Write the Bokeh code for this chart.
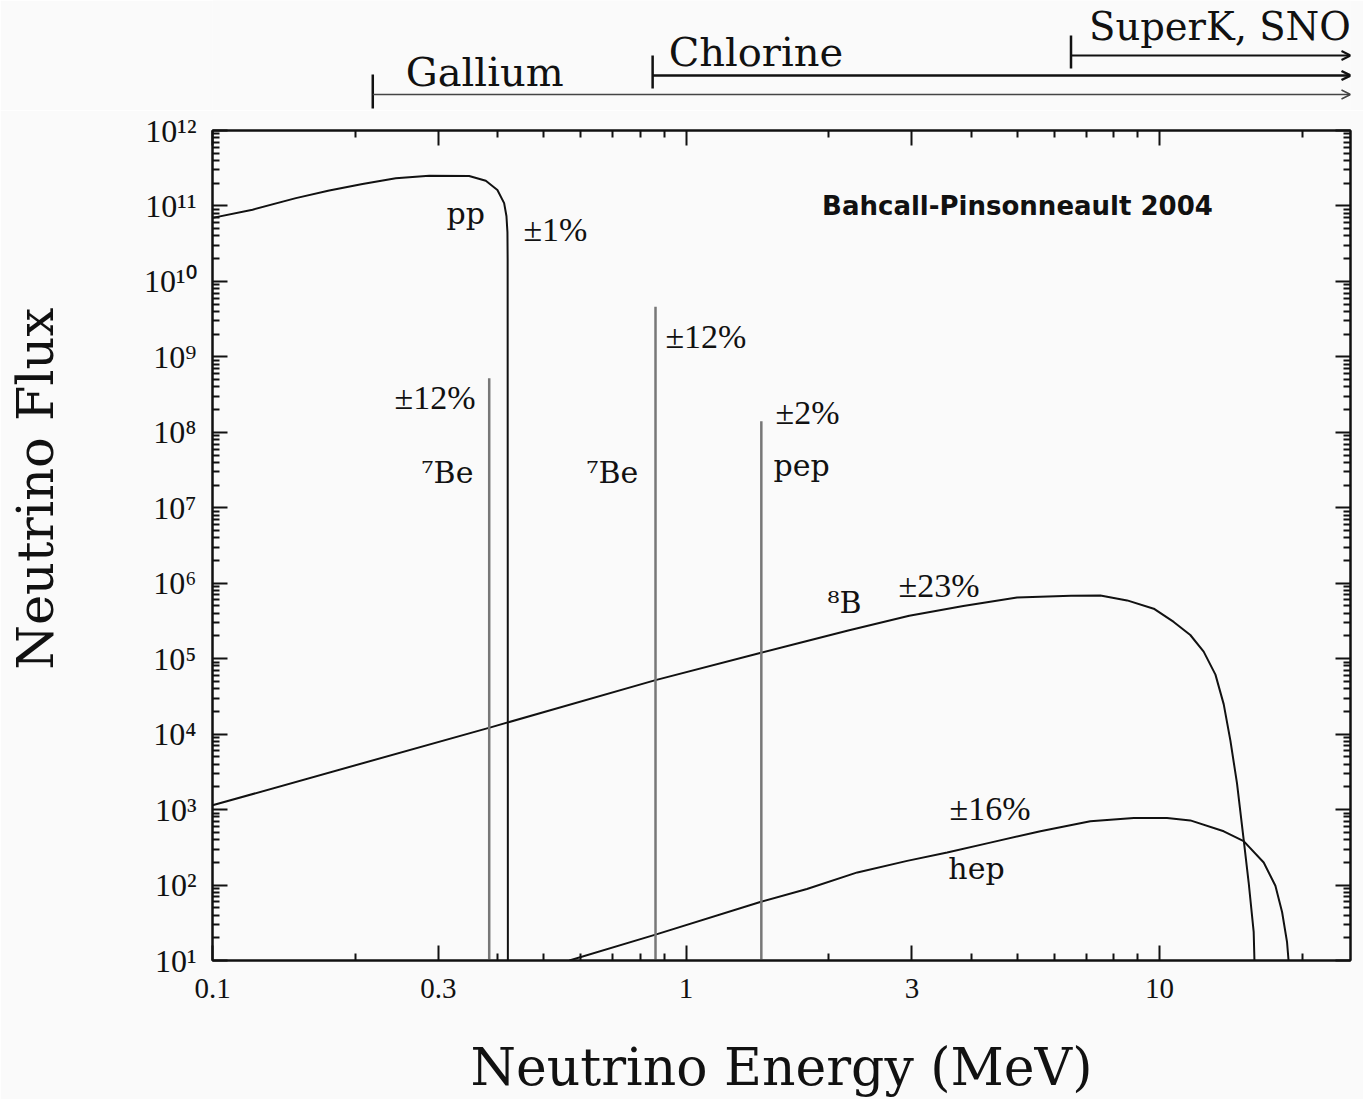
import numpy as np
from bokeh.plotting import figure
from bokeh.layouts import column
from bokeh.models import (FixedTicker, LogAxis, Range1d, Arrow, OpenHead,
                          CustomJSTickFormatter)
from bokeh.core.properties import value
from bokeh.embed import file_html
from bokeh.resources import INLINE

# ---------------- data ----------------
pp_E = [0.1, 0.1215, 0.150, 0.1764, 0.2074, 0.2438, 0.2869, 0.3483, 0.3777,
        0.3996, 0.4129, 0.4176, 0.4196, 0.4200, 0.4205]
pp_F = [6.95e10, 8.93e10, 1.27e11, 1.60e11, 1.96e11, 2.33e11, 2.52e11, 2.50e11,
        2.16e11, 1.63e11, 1.09e11, 7.3e10, 4.46e10, 1.98e10, 10]

b8_E = [0.1, 0.385, 0.862, 1.44, 1.75, 2.2, 2.96, 3.85, 5.0, 6.5, 7.50, 8.54,
        9.72, 10.71, 11.61, 12.39, 13.12, 13.66, 14.11, 14.57, 15.05, 15.42,
        15.80, 15.86]
b8_F = [1.14e3, 1.22e4, 5.2e4, 1.2e5, 1.64e5, 2.36e5, 3.7e5, 5.0e5, 6.46e5,
        6.8e5, 6.88e5, 5.92e5, 4.60e5, 3.07e5, 2.06e5, 1.24e5, 6.15e4, 2.48e4,
        8.2e3, 2.22e3, 401, 108, 24, 10]

hep_E = [0.567, 0.862, 1.44, 1.80, 2.30, 2.93, 3.56, 4.39, 5.60, 7.14, 8.82,
         10.37, 11.61, 13.66, 15.05, 16.59, 17.56, 18.14, 18.58, 18.72]
hep_F = [10, 22, 60, 88.7, 147, 209, 270, 365, 517, 700, 771,
         771, 719, 516, 382, 199, 98, 43.9, 17.7, 10]

line_E = [0.384, 0.862, 1.442]          # 7Be, 7Be, pep
line_F = [5.2e8, 4.6e9, 1.4e8]

det_names = ["Gallium", "Chlorine", "SuperK, SNO"]
det_thresh = [0.218, 0.85, 6.5]

x_ticks = [0.1, 0.3, 1, 3, 10]
x_tick_labels = ["0.1", "0.3", "1", "3", "10"]
x_minor = [0.2, 0.4, 0.5, 0.6, 0.7, 0.8, 0.9, 2, 4, 5, 6, 7, 8, 9, 20]

y_exps = list(range(1, 13))
y_tick_labels = ["10¹", "10²", "10³", "10⁴", "10⁵", "10⁶", "10⁷", "10⁸", "10⁹",
                 "10¹⁰", "10¹¹", "10¹²"]

XMIN, XMAX = 0.1, 25.3
YMIN, YMAX = 10, 1e12

# ---------------- layout ----------------
FRAME_L = 212
R_BORDER = 13
FRAME_W = 1138
TOP_H = 110
MAIN_TOP = 20
FRAME_H = 839
BOTTOM = 130
W = FRAME_L + FRAME_W + R_BORDER
BG = "#fafafa"
INK = "#111111"
SERIF = "DejaVu Serif"
TSERIF = "Liberation Serif"
PXY = FRAME_H / (np.log10(YMAX) - np.log10(YMIN))   # px per decade (y)

p = figure(width=W, height=MAIN_TOP + FRAME_H + BOTTOM,
           x_axis_type="log", y_axis_type="log",
           x_range=Range1d(XMIN, XMAX), y_range=Range1d(YMIN, YMAX),
           output_backend="svg", toolbar_location=None, title=None,
           min_border_left=FRAME_L, min_border_right=R_BORDER,
           min_border_top=MAIN_TOP, min_border_bottom=BOTTOM)
p.background_fill_color = BG
p.border_fill_color = BG
p.outline_line_color = INK
p.outline_line_width = 2
p.xgrid.grid_line_color = None
p.ygrid.grid_line_color = None

p.add_layout(LogAxis(), "above")
p.add_layout(LogAxis(), "right")

xfmt = CustomJSTickFormatter(args=dict(xt=x_ticks, xl=x_tick_labels), code="""
const i = xt.findIndex(v => Math.abs(Math.log10(v) - Math.log10(tick)) < 1e-6);
return i >= 0 ? xl[i] : "";
""")
yfmt = CustomJSTickFormatter(args=dict(ye=y_exps, yl=y_tick_labels), code="""
const e = Math.round(Math.log10(tick));
const i = ye.indexOf(e);
return i >= 0 ? yl[i] : "";
""")
blank = CustomJSTickFormatter(code="return '';")

for ax in p.xaxis:
    ax.ticker = FixedTicker(ticks=x_ticks, minor_ticks=x_minor)
for ax in p.yaxis:
    ax.ticker = FixedTicker(ticks=[10.0 ** e for e in y_exps],
                            minor_ticks=[m * 10.0 ** e for e in y_exps[:-1] for m in range(2, 10)])

for ax in list(p.xaxis) + list(p.yaxis):
    ax.major_tick_in = 15
    ax.major_tick_out = 0
    ax.minor_tick_in = 7
    ax.minor_tick_out = 0
    ax.axis_line_width = 2
    ax.axis_line_color = INK
    ax.major_tick_line_width = 2
    ax.major_tick_line_color = INK
    ax.minor_tick_line_width = 2
    ax.minor_tick_line_color = INK
    ax.major_label_text_font = TSERIF
    ax.major_label_text_color = INK
    ax.axis_label_text_font = SERIF
    ax.axis_label_text_font_style = "normal"
    ax.axis_label_text_color = INK

p.above[0].formatter = blank
p.above[0].major_label_standoff = 0
p.right[0].formatter = blank
p.right[0].major_label_standoff = 0

bx = p.below[0]
bx.formatter = xfmt
bx.major_label_text_font_size = "29px"
bx.major_label_standoff = 18
bx.axis_label = "Neutrino Energy (MeV)"
bx.axis_label_text_font_size = "52px"
bx.axis_label_standoff = 36

ly = p.left[0]
ly.formatter = yfmt
ly.major_label_text_font_size = "32px"
ly.major_label_standoff = 16
# leading no-break spaces lift the title above the frame centre, as in the reference
ly.axis_label = "\u00a0" * 7 + "Neutrino Flux"
ly.axis_label_text_font_size = "51px"
ly.axis_label_standoff = 76

# curves
p.line(pp_E, pp_F, line_color=INK, line_width=2)
p.line(b8_E, b8_F, line_color=INK, line_width=2)
p.line(hep_E, hep_F, line_color=INK, line_width=2)
p.segment(x0=line_E, y0=[YMIN] * len(line_E), x1=line_E, y1=line_F,
          line_color="#777777", line_width=2.5)

def lab(x, y, t, font=SERIF, size=30, align="left", style="normal", lift=7):
    # lift: pixels the baseline is raised to sit where the reference has it
    p.text(x=[x], y=[y * 10 ** (lift / PXY)], text=[t], text_font=value(font),
           text_font_size=f"{size}px", text_align=align, text_baseline="alphabetic",
           text_color=INK, text_font_style=style)

lab(0.312, 6.4e10, "pp")
lab(0.4535, 3.6e10, "±1%", font=TSERIF, size=34, lift=10)
lab(5.01, 8.2e10, "Bahcall-Pinsonneault 2004", font="DejaVu Sans",
    size=26, align="center", style="bold")
lab(0.3593, 2.13e8, "±12%", font=TSERIF, size=34, align="right", lift=10)
lab(0.3556, 2.29e7, "⁷Be", align="right", lift=8)
lab(0.793, 2.29e7, "⁷Be", align="right", lift=8)
lab(0.9047, 1.39e9, "±12%", font=TSERIF, size=34, lift=10)
lab(1.545, 1.36e8, "±2%", font=TSERIF, size=34, lift=10)
lab(1.53, 2.9e7, "pep")
lab(1.989, 4.8e5, "⁸B", lift=5)
lab(2.81, 6.9e5, "±23%", font=TSERIF, size=34, lift=10)
lab(3.6, 845, "±16%", font=TSERIF, size=34, lift=7)
lab(3.58, 156, "hep", lift=2)

# ---------------- detector thresholds (strip above the frame) ----------------
t = figure(width=W, height=TOP_H, x_axis_type="log", x_range=p.x_range,
           y_range=Range1d(0, TOP_H), output_backend="svg", toolbar_location=None,
           title=None, min_border_left=0, min_border_right=0, min_border_top=0,
           min_border_bottom=0, x_axis_location=None, y_axis_location=None)
t.background_fill_color = BG
t.border_fill_color = BG
t.outline_line_color = None
t.xgrid.grid_line_color = None
t.ygrid.grid_line_color = None

line_y = [16, 35, 55]
tick_lo = [2, 22, 42]
tick_hi = [36, 55, 75]
text_y = [39, 59, 84]
text_dx = [33, 16, 18]
text_sz = ["40px", "40px", "38.5px"]
widths = [1.5, 2.5, 2]
colors = ["#444444", INK, INK]
for thr, ly_, lo, hi, ty, dx, sz, name, lw, c in zip(det_thresh, line_y, tick_lo, tick_hi,
                                                     text_y, text_dx, text_sz, det_names,
                                                     widths, colors):
    t.segment(x0=[thr], y0=[lo], x1=[thr], y1=[hi], line_color=INK, line_width=2.5)
    t.add_layout(Arrow(end=OpenHead(size=9, line_width=lw, line_color=c),
                       x_start=thr, y_start=ly_, x_end=XMAX, y_end=ly_,
                       line_width=lw, line_color=c))
    t.text(x=[thr], y=[ty], text=[name], x_offset=dx, text_font=value(SERIF),
           text_font_size=sz, text_baseline="alphabetic", text_color=INK)

layout = column(t, p, spacing=0)
open("out.html", "w").write(file_html(layout, INLINE))
